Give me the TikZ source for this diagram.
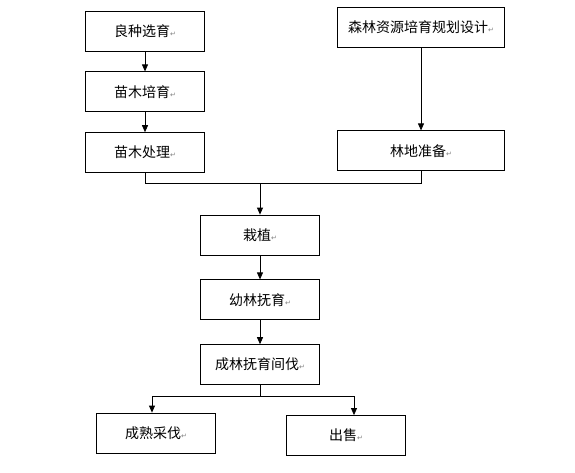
\documentclass[tikz,border=0pt]{standalone}
\usepackage{fontspec}
\setmainfont{Noto Sans CJK SC}
\newfontfamily\retfont{DejaVu Sans}
\usetikzlibrary{arrows.meta,positioning}
\newcommand{\ret}{{\retfont\color{gray}\fontsize{7}{7}\selectfont ↵}}

\begin{document}
\begin{tikzpicture}[
    x=1pt, y=-1pt,
    node distance=20pt,
    stepbox/.style={rectangle, draw=black, line width=0.8pt, minimum width=119pt, minimum height=40pt, inner sep=0pt, align=center, font=\fontsize{14}{16}\selectfont},
    widebox/.style={stepbox, minimum width=167pt},
    arrow/.style={-{Triangle[length=7pt,width=6pt]}, line width=0.8pt, black},
    link/.style={line width=0.8pt, black},
]
\useasboundingbox (0,0) rectangle (575,472);

% --- seedling branch ---
\node[stepbox] (liangzhong) at (145,31) {良种选育\ret};
\node[stepbox, below=of liangzhong] (miaomu) {苗木培育\ret};
\node[stepbox, below=of miaomu] (chuli) {苗木处理\ret};

\draw[arrow] (liangzhong) -- (miaomu);
\draw[arrow] (miaomu) -- (chuli);

% --- site branch ---
\node[widebox] (guihua) at (421,27) {森林资源培育规划设计\ret};
\node[widebox, below=83pt of guihua] (lindi) {林地准备\ret};

\draw[arrow] (guihua) -- (lindi);

% --- planting and tending ---
\coordinate (join) at (260,183.5);
\node[stepbox] (zaizhi) at (260,235) {栽植\ret};
\node[stepbox, below=24pt of zaizhi] (youlin) {幼林抚育\ret};
\node[stepbox, below=24pt of youlin] (chenglin) {成林抚育间伐\ret};

\draw[link] (chuli) |- (join) -| (lindi);
\draw[arrow] (join) -- (zaizhi);
\draw[arrow] (zaizhi) -- (youlin);
\draw[arrow] (youlin) -- (chenglin);

% --- outputs ---
\node[stepbox] (chengshu) at (156,433) {成熟采伐\ret};
\node[stepbox] (chushou) at (346,435.5) {出售\ret};
\coordinate[below=11pt of chenglin] (split);

\draw[link] (chenglin) -- (split);
\draw[arrow] (split) -| ([xshift=-4pt]chengshu.north);
\draw[arrow] (split) -| ([xshift=8pt]chushou.north);

\end{tikzpicture}
\end{document}
